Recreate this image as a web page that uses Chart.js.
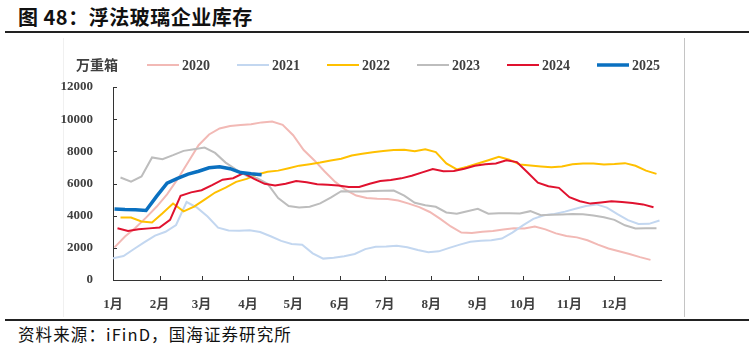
<!DOCTYPE html>
<html>
<head>
<meta charset="utf-8">
<script src="https://cdn.jsdelivr.net/npm/chart.js@4.4.0/dist/chart.umd.min.js"></script>
<style>
  body { margin: 0; width: 749px; height: 351px; background: #fff; position: relative; overflow: hidden; font-family: "Noto Sans CJK SC", sans-serif; }
  #title { position: absolute; left: 18px; top: 2px; font-size: 20px; font-weight: bold; letter-spacing: 0.5px; color: #111; white-space: nowrap; }
  #topline { position: absolute; left: 5px; right: 0; top: 31px; height: 2px; background: #222; }
  #box { position: absolute; left: 63px; top: 38px; width: 620px; height: 279px; border-left: 1px solid #f0f0f0; border-right: 1px solid #c4c4c4; }
  #wrap { position: absolute; left: 0; top: 38px; width: 749px; height: 280px; }
  #bottomline { position: absolute; left: 5px; right: 0; top: 319px; height: 2px; background: #222; }
  #source { position: absolute; left: 18px; top: 322px; font-size: 16.5px; letter-spacing: 1.1px; color: #111; white-space: nowrap; }
</style>
</head>
<body>
<div id="title">图 48：浮法玻璃企业库存</div>
<div id="topline"></div>
<div id="box"></div>
<div id="wrap"><canvas id="glassChart"></canvas></div>
<div id="bottomline"></div>
<div id="source">资料来源：iFinD，国海证券研究所</div>
<script>
// month tick labels and their day-of-year positions
var monthLabels = ["1月", "2月", "3月", "4月", "5月", "6月", "7月", "8月", "9月", "10月", "11月", "12月"];
var monthStarts = [0, 31, 59, 90, 120, 151, 181, 212, 243, 273, 304, 334];
var unitLabel = "万重箱";

// weekly inventory, 万重箱 (first data day of each year below)
var years = ["2020", "2021", "2022", "2023", "2024", "2025"];
var firstDay = [1, 0, 5, 5, 3, 1];
var inv2020 = [2030, 2700, 3250, 3880, 4550, 5330, 6270, 7320, 8380, 9050, 9420, 9580, 9640, 9680, 9800, 9850, 9650, 9000, 8080, 7450, 6750, 6100, 5600, 5250, 5100, 5050, 5030, 4940, 4750, 4530, 4230, 3800, 3330, 2950, 2930, 3000, 3040, 3140, 3210, 3200, 3330, 3150, 2900, 2740, 2650, 2470, 2200, 1960, 1790, 1620, 1420, 1250];
var inv2021 = [1350, 1490, 1930, 2350, 2760, 3000, 3420, 4850, 4500, 3950, 3250, 3080, 3060, 3100, 2980, 2720, 2430, 2240, 2190, 1660, 1330, 1380, 1480, 1620, 1920, 2060, 2080, 2130, 2040, 1870, 1730, 1780, 2000, 2200, 2380, 2440, 2470, 2580, 2950, 3400, 3800, 4020, 4100, 4250, 4430, 4600, 4700, 4500, 4100, 3720, 3480, 3490, 3700];
var inv2022 = [3880, 3880, 3640, 3570, 4150, 4760, 4270, 4560, 5000, 5440, 5740, 6100, 6290, 6560, 6730, 6800, 6950, 7110, 7200, 7300, 7430, 7540, 7740, 7850, 7950, 8020, 8076, 8096, 8010, 8130, 7950, 7250, 6880, 7040, 7240, 7450, 7660, 7480, 7180, 7120, 7060, 7010, 7060, 7190, 7250, 7240, 7180, 7210, 7266, 7100, 6800, 6600];
var inv2023 = [6370, 6120, 6440, 7620, 7510, 7760, 8030, 8130, 8230, 7900, 7300, 6870, 6480, 6330, 5980, 5100, 4600, 4510, 4560, 4760, 5120, 5520, 5500, 5500, 5530, 5550, 5560, 5250, 4800, 4650, 4550, 4200, 4120, 4280, 4430, 4120, 4150, 4150, 4140, 4280, 4030, 4050, 4080, 4110, 4090, 4010, 3900, 3740, 3400, 3200, 3210, 3220];
var inv2024 = [3220, 3050, 3150, 3210, 3260, 3740, 5230, 5450, 5580, 5900, 6240, 6330, 6640, 6290, 5980, 5880, 5980, 6160, 6080, 5960, 5920, 5880, 5790, 5790, 5980, 6150, 6220, 6320, 6480, 6690, 6900, 6760, 6780, 6920, 7100, 7190, 7250, 7440, 7330, 6700, 6050, 5830, 5730, 5150, 4900, 4750, 4820, 4900, 4850, 4790, 4700, 4520];
var inv2025 = [4420, 4380, 4370, 4320, 5200, 6020, 6320, 6580, 6760, 6980, 7040, 6920, 6680, 6600, 6540];

var seriesValues = [inv2020, inv2021, inv2022, inv2023, inv2024, inv2025];
var seriesColors = ["#f2b9b5", "#c3d7f0", "#ffc000", "#bdbdbd", "#e0122f", "#0a70c0"];
var seriesWidths = [2, 2, 2, 2, 2, 3.5];

var serif = "'Liberation Serif', 'Noto Sans CJK SC', serif";

function weeklyPoints(values, start) {
  return values.map(function (v, i) {
    return { x: start + 7 * i, y: v };
  });
}

var datasets = years.map(function (yr, i) {
  return {
    label: yr,
    data: weeklyPoints(seriesValues[i], firstDay[i]),
    borderColor: seriesColors[i],
    backgroundColor: seriesColors[i],
    borderWidth: seriesWidths[i],
    pointRadius: 0,
    tension: 0,
    fill: false,
    order: years.length - 1 - i,
  };
});

// small tick marks drawn inwards from the axes
var insideTicks = {
  id: "insideTicks",
  afterDatasetsDraw: function (chart) {
    var ctx = chart.ctx;
    var area = chart.chartArea;
    ctx.save();
    ctx.strokeStyle = "#333";
    ctx.lineWidth = 1;
    ctx.beginPath();
    monthStarts.forEach(function (d) {
      if (d === 0) return;
      var x = Math.round(chart.scales.x.getPixelForValue(d)) + 0.5;
      ctx.moveTo(x, area.bottom);
      ctx.lineTo(x, area.bottom - 4);
    });
    chart.scales.y.ticks.forEach(function (t) {
      var y = Math.round(chart.scales.y.getPixelForValue(t.value)) + 0.5;
      ctx.moveTo(area.left, y);
      ctx.lineTo(area.left + 4, y);
    });
    ctx.stroke();
    ctx.restore();
  },
};

// legend row with the unit text in front
var legendRow = {
  id: "legendRow",
  afterDraw: function (chart) {
    var ctx = chart.ctx;
    var y = 27;
    ctx.save();
    ctx.fillStyle = "#404040";
    ctx.textBaseline = "middle";
    ctx.font = "bold 14px 'Noto Sans CJK SC'";
    ctx.fillText(unitLabel, 76, y);
    ctx.font = "bold 14px " + serif;
    chart.data.datasets.forEach(function (ds, i) {
      var x0 = 147 + 90 * i;
      ctx.strokeStyle = ds.borderColor;
      ctx.lineWidth = ds.borderWidth;
      ctx.beginPath();
      ctx.moveTo(x0, y);
      ctx.lineTo(x0 + 32, y);
      ctx.stroke();
      ctx.fillText(ds.label, x0 + 35, y + 1);
    });
    ctx.restore();
  },
};

var ctx = document.getElementById("glassChart").getContext("2d");
var glassChart = new Chart(ctx, {
  type: "line",
  data: { datasets: datasets },
  options: {
    responsive: true,
    maintainAspectRatio: false,
    animation: false,
    layout: { padding: { top: 49, right: 88, bottom: 0, left: 0 } },
    plugins: {
      legend: { display: false },
      tooltip: { enabled: false },
    },
    scales: {
      x: {
        type: "linear",
        min: 0,
        max: 365,
        grid: { display: false },
        border: { display: true, color: "#333", width: 1 },
        afterBuildTicks: function (scale) {
          scale.ticks = monthStarts.map(function (d) {
            return { value: d };
          });
        },
        afterFit: function (scale) {
          scale.height = 38;
        },
        ticks: {
          autoSkip: false,
          maxRotation: 0,
          padding: 9,
          color: "#404040",
          font: { family: serif, size: 13, weight: "bold" },
          callback: function (value, index) {
            return monthLabels[index];
          },
        },
      },
      y: {
        min: 0,
        max: 12000,
        grid: { display: false },
        border: { display: true, color: "#333", width: 1 },
        afterFit: function (scale) {
          scale.width = 113;
        },
        ticks: {
          stepSize: 2000,
          padding: 12,
          color: "#404040",
          font: { family: serif, size: 13, weight: "bold" },
          callback: function (value) {
            return String(value);
          },
        },
      },
    },
  },
  plugins: [insideTicks, legendRow],
});
</script>
</body>
</html>
